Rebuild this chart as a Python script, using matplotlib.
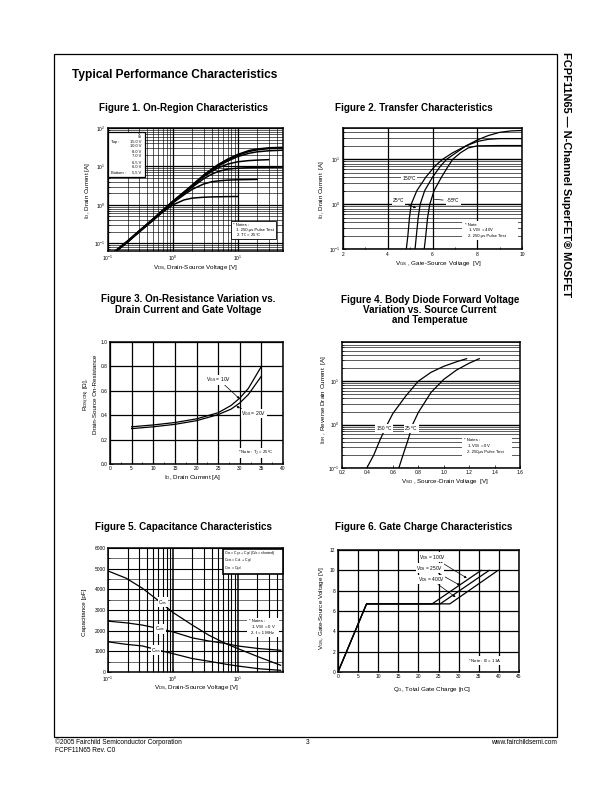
import numpy as np
import matplotlib
matplotlib.use('Agg')
import matplotlib.pyplot as plt
from matplotlib.patches import Rectangle
from matplotlib.ticker import LogLocator, NullFormatter, FixedLocator, MultipleLocator, FixedFormatter

plt.rcParams['font.family'] = ['Liberation Sans', 'DejaVu Sans']
plt.rcParams['mathtext.fontset'] = 'custom'
plt.rcParams['mathtext.rm'] = 'Liberation Sans'
plt.rcParams['mathtext.it'] = 'Liberation Sans'
plt.rcParams['mathtext.bf'] = 'Liberation Sans:bold'

# ---------------- data ----------------
# Figure 1: On-region characteristics
f1_vds = [0.13, 0.2, 0.3, 0.5, 0.7, 1.0, 1.5, 2.0, 3.0, 4.0, 5.0, 7.0, 10.0, 15.0, 20.0, 30.0, 50.0]
f1_id_15v = [0.064, 0.115, 0.21, 0.44, 0.73, 1.25, 2.2, 3.3, 6.0, 8.6, 11.2, 15.5, 20.5, 26.0, 28.5, 30.5, 31.5]
f1_id_10v = [0.063, 0.113, 0.205, 0.43, 0.72, 1.22, 2.15, 3.25, 5.9, 8.4, 10.8, 14.8, 19.5, 24.5, 27.0, 29.0, 30.0]
f1_id_8v = [0.062, 0.111, 0.2, 0.42, 0.7, 1.2, 2.1, 3.2, 5.7, 8.0, 10.2, 13.8, 18.0, 22.0, 24.0, 25.5, 26.5]
f1_id_7v = [0.061, 0.11, 0.2, 0.42, 0.7, 1.19, 2.08, 3.1, 5.4, 7.4, 9.2, 11.5, 13.2, 14.2, 14.6, 15.0, np.nan]
f1_id_65v = [0.061, 0.109, 0.198, 0.415, 0.69, 1.17, 2.0, 2.9, 4.8, 6.3, 7.4, 8.5, 9.0, 9.3, 9.4, 9.5, 9.6]
f1_id_6v = [0.06, 0.108, 0.196, 0.41, 0.68, 1.12, 1.85, 2.55, 3.5, 4.0, 4.2, 4.4, 4.5, 4.55, 4.6, np.nan, np.nan]
f1_id_55v = [0.06, 0.107, 0.194, 0.40, 0.65, 1.0, 1.35, 1.5, 1.58, 1.61, 1.62, 1.64, 1.65, np.nan, np.nan, np.nan, np.nan]
f1_vgs_labels = ['15.0 V', '10.0 V', '8.0 V', '7.0 V', '6.5 V', '6.0 V', '5.5 V']

# Figure 2: Transfer characteristics (Vgs, Id)
f2_vgs_150 = [4.83, 4.9, 4.97, 5.05, 5.3, 5.7, 6.1, 6.45, 6.9, 7.5, 8.0, 8.5, 9.0, 9.5, 10.0]
f2_id_150 = [0.1, 0.2, 0.5, 1.0, 2.0, 4.0, 7.0, 10.0, 14.0, 20.0, 27.0, 34.0, 40.0, 43.0, 44.0]
f2_vgs_25 = [5.22, 5.28, 5.36, 5.45, 5.65, 6.0, 6.35, 6.63, 7.05, 7.5, 8.0, 8.5, 9.0, 10.0]
f2_id_25 = [0.1, 0.2, 0.5, 1.0, 2.0, 4.0, 7.0, 10.0, 14.0, 20.0, 25.0, 28.0, 29.0, 29.0]
f2_vgs_m55 = [5.63, 5.7, 5.78, 5.88, 6.07, 6.4, 6.7, 6.9, 7.25, 7.6, 8.0, 9.0, 10.0]
f2_id_m55 = [0.1, 0.2, 0.5, 1.0, 2.0, 4.0, 7.0, 10.0, 14.0, 18.0, 20.0, 20.3, 20.3]

# Figure 3: On-resistance vs drain current
f3_id = [5, 10, 15, 20, 25, 28, 30, 32, 35]
f3_r_10v = [0.305, 0.32, 0.34, 0.37, 0.42, 0.48, 0.54, 0.62, 0.80]
f3_r_20v = [0.29, 0.305, 0.325, 0.355, 0.405, 0.45, 0.50, 0.57, 0.72]

# Figure 4: Body diode forward voltage
f4_vsd_150 = [0.395, 0.45, 0.5, 0.555, 0.6, 0.7, 0.8, 0.9, 1.0, 1.1, 1.18]
f4_idr_150 = [0.1, 0.2, 0.45, 1.0, 1.8, 4.5, 10.0, 16.0, 22.0, 28.0, 33.0]
f4_vsd_25 = [0.647, 0.68, 0.72, 0.755, 0.8, 0.9, 1.0, 1.1, 1.2, 1.28]
f4_idr_25 = [0.1, 0.2, 0.45, 1.0, 1.9, 5.5, 11.0, 18.0, 26.0, 33.0]

# Figure 5: Capacitance characteristics
f5_vds = [0.1, 0.19, 0.34, 0.61, 1.0, 2.0, 3.6, 6.5, 10.0, 21.0, 46.0]
f5_ciss = [4890, 4540, 4050, 3435, 2885, 2270, 1780, 1380, 1135, 730, 325]
f5_coss = [2460, 2380, 2270, 2100, 1945, 1650, 1500, 1380, 1260, 1135, 1050]
f5_crss = [1460, 1340, 1260, 1050, 890, 650, 520, 380, 290, 160, 80]

# Figure 6: Gate charge characteristics
f6_qg_100 = [0, 7.1, 23.4, 35.6]
f6_vgs_100 = [0, 6.7, 6.7, 10.0]
f6_qg_250 = [0, 7.1, 25.4, 37.6]
f6_vgs_250 = [0, 6.7, 6.7, 10.0]
f6_qg_400 = [0, 7.1, 27.8, 39.8]
f6_vgs_400 = [0, 6.7, 6.7, 10.0]

# ---------------- layout helpers ----------------
W, H = 612, 792
fig = plt.figure(figsize=(W / 100, H / 100), dpi=100)
fig.patch.set_facecolor('white')


def rect(l, t, r, b):
    return [l / W, 1 - b / H, (r - l) / W, (b - t) / H]


def ptext(x, y, s, size=4.0, ha='left', va='center', **kw):
    return fig.text(x / W, 1 - y / H, s, fontsize=size, ha=ha, va=va, **kw)


def pbox(x0, y0, x1, y1, lw=0.8, fc='white', z=5):
    r = Rectangle((x0 / W, 1 - y1 / H), (x1 - x0) / W, (y1 - y0) / H,
                  transform=fig.transFigure, facecolor=fc, edgecolor='black',
                  linewidth=lw, zorder=z)
    fig.patches.append(r)


def style(ax):
    for s in ax.spines.values():
        s.set_linewidth(1.1)
    ax.tick_params(which='both', direction='in', labelsize=3.5, width=0.5, pad=1.8)
    ax.tick_params(which='major', length=2)
    ax.tick_params(which='minor', length=1.2)
    ax.set_facecolor('white')


LAB = 4.5
TIT = 7.1

# page frame
fig.patches.append(Rectangle((54 / W, 1 - 737 / H), (557 - 54) / W, (737 - 54) / H,
                             transform=fig.transFigure, fill=False, edgecolor='black',
                             linewidth=0.9, zorder=1))
ptext(72, 75, 'Typical Performance Characteristics', size=8.6, weight='bold')
ptext(566, 52, 'FCPF11N65 \u2014 N-Channel SuperFET\u00ae MOSFET', size=7.9,
      weight='bold', rotation=270, ha='center', va='top')

# footer
ptext(55, 742, '\u00a92005 Fairchild Semiconductor Corporation', size=4.7)
ptext(55, 750, 'FCPF11N65 Rev. C0', size=4.7)
ptext(308, 743, '3', size=4.7, ha='center')
ptext(557, 742, 'www.fairchildsemi.com', size=4.7, ha='right')

# ---------------- Figure 1 ----------------
ax1 = fig.add_axes(rect(108, 128, 283, 251))
style(ax1)
ax1.set_xscale('log')
ax1.set_yscale('log')
ax1.set_xlim(0.1, 50)
ax1.set_ylim(0.063, 100)
ax1.grid(True, which='major', color='black', lw=0.9)
ax1.grid(True, which='minor', color='black', lw=0.45)
for ys in [f1_id_15v, f1_id_10v, f1_id_8v, f1_id_7v, f1_id_65v, f1_id_6v, f1_id_55v]:
    ax1.plot(f1_vds, ys, color='black', lw=1.1, zorder=3)
ax1.xaxis.set_major_locator(FixedLocator([0.1, 1, 10]))
ax1.xaxis.set_major_formatter(FixedFormatter(['10$^{-1}$', '10$^{0}$', '10$^{1}$']))
ax1.yaxis.set_major_locator(FixedLocator([0.1, 1, 10, 100]))
ax1.yaxis.set_major_formatter(FixedFormatter(['10$^{-1}$', '10$^{0}$', '10$^{1}$', '10$^{2}$']))
ax1.xaxis.set_minor_locator(LogLocator(base=10, subs=np.arange(2, 10)))
ax1.yaxis.set_minor_locator(LogLocator(base=10, subs=np.arange(2, 10)))
ax1.xaxis.set_minor_formatter(NullFormatter())
ax1.yaxis.set_minor_formatter(NullFormatter())
ptext(183.5, 108, 'Figure 1. On-Region Characteristics', size=TIT, weight='bold', ha='center')
ptext(195.5, 268, 'V$_{\\mathrm{DS}}$, Drain-Source Voltage [V]', size=LAB, ha='center')
ptext(88, 190, 'I$_{\\mathrm{D}}$, Drain Current [A]', size=LAB, ha='center', rotation=90)
# VGS legend box
pbox(108, 131.5, 144.5, 177, lw=0.9)
ptext(140.5, 134.3, 'V', size=2.9, ha='right', zorder=6)
ptext(141.5, 137.3, 'GS', size=2.1, ha='right', zorder=6)
rows_y = [142.3, 146.3, 152.4, 156.4, 162.6, 166.7, 173.2]
for yy, lab in zip(rows_y, f1_vgs_labels):
    ptext(141, yy, lab, size=2.9, ha='right', zorder=6)
ptext(111, 142.3, 'Top :', size=2.9, zorder=6)
ptext(111, 173.2, 'Bottom :', size=2.9, zorder=6)
# notes box
pbox(231, 221, 276, 239, lw=0.6)
ptext(233, 224.5, '* Notes :', size=3.1, zorder=6)
ptext(236, 230, '1. 250 \u03bcs Pulse Test', size=3.1, zorder=6)
ptext(236, 235.5, '2. T$_{\\mathrm{C}}$ = 25\u00b0C', size=3.1, zorder=6)

# ---------------- Figure 2 ----------------
ax2 = fig.add_axes(rect(343, 128, 522, 249))
style(ax2)
ax2.set_yscale('log')
ax2.set_xlim(2, 10)
ax2.set_ylim(0.1, 50)
ax2.xaxis.set_major_locator(FixedLocator([2, 4, 6, 8, 10]))
ax2.xaxis.set_minor_locator(MultipleLocator(1))
ax2.yaxis.set_major_locator(FixedLocator([0.1, 1, 10]))
ax2.yaxis.set_major_formatter(FixedFormatter(['10$^{-1}$', '10$^{0}$', '10$^{1}$']))
ax2.yaxis.set_minor_locator(LogLocator(base=10, subs=np.arange(2, 10)))
ax2.yaxis.set_minor_formatter(NullFormatter())
ax2.grid(True, which='major', axis='x', color='black', lw=0.9)
ax2.grid(True, which='major', axis='y', color='black', lw=1.0)
ax2.grid(True, which='minor', axis='y', color='black', lw=0.45)
ax2.plot(f2_vgs_150, f2_id_150, color='black', lw=0.9, zorder=3)
ax2.plot(f2_vgs_25, f2_id_25, color='black', lw=0.9, zorder=3)
ax2.plot(f2_vgs_m55, f2_id_m55, color='black', lw=0.9, zorder=3)
ax2.annotate('150$^{\\mathrm{o}}$C', xy=(5.45, 3.0), xytext=(4.62, 3.7), fontsize=3.4,
             ha='left', va='center', arrowprops=dict(arrowstyle='-', lw=0.5, color='black'),
             bbox=dict(fc='white', ec='none', pad=0.3))
ax2.annotate('25$^{\\mathrm{o}}$C', xy=(5.38, 0.78), xytext=(4.2, 1.18), fontsize=3.4,
             ha='left', va='center', arrowprops=dict(arrowstyle='-|>', lw=0.5, color='black',
                                                    mutation_scale=3),
             bbox=dict(fc='white', ec='none', pad=0.3))
ax2.annotate('-55$^{\\mathrm{o}}$C', xy=(5.96, 1.3), xytext=(6.62, 1.18), fontsize=3.4,
             ha='left', va='center', arrowprops=dict(arrowstyle='-', lw=0.5, color='black'),
             bbox=dict(fc='white', ec='none', pad=0.3))
pbox(462, 221, 518, 240, lw=0.0)
ptext(465, 224.5, '* Note', size=3.1, zorder=6)
ptext(468, 230, '1. V$_{\\mathrm{DS}}$ = 40V', size=3.1, zorder=6)
ptext(468, 235.5, '2. 250 \u03bcs Pulse Test', size=3.1, zorder=6)
ptext(414, 108, 'Figure 2. Transfer Characteristics', size=TIT, weight='bold', ha='center')
ptext(438, 263, 'V$_{\\mathrm{GS}}$ , Gate-Source Voltage  [V]', size=LAB, ha='center')
ptext(322, 190, 'I$_{\\mathrm{D}}$, Drain Current  [A]', size=LAB, ha='center', rotation=90)

# ---------------- Figure 3 ----------------
ax3 = fig.add_axes(rect(110, 342, 283, 464))
style(ax3)
ax3.set_xlim(0, 40)
ax3.set_ylim(0, 1.0)
ax3.xaxis.set_major_locator(MultipleLocator(5))
ax3.yaxis.set_major_locator(MultipleLocator(0.2))
ax3.yaxis.set_major_formatter(matplotlib.ticker.FormatStrFormatter('%.1f'))
ax3.xaxis.set_minor_locator(MultipleLocator(2.5))
ax3.grid(True, which='major', color='black', lw=0.9)
ax3.plot(f3_id, f3_r_10v, color='black', lw=0.9, zorder=3)
ax3.plot(f3_id, f3_r_20v, color='black', lw=0.9, zorder=3)
ax3.annotate('V$_{\\mathrm{GS}}$ = 10V', xy=(30.4, 0.52), xytext=(22.3, 0.69), fontsize=3.6,
             ha='left', va='center', arrowprops=dict(arrowstyle='-|>', lw=0.5, color='black',
                                                    mutation_scale=3, shrinkA=0),
             bbox=dict(fc='white', ec='none', pad=0.3))
ax3.annotate('V$_{\\mathrm{GS}}$ = 20V', xy=(28.6, 0.48), xytext=(30.4, 0.415), fontsize=3.6,
             ha='left', va='center', arrowprops=dict(arrowstyle='-|>', lw=0.5, color='black',
                                                    mutation_scale=3, shrinkA=0),
             bbox=dict(fc='white', ec='none', pad=0.3))
ax3.text(33.8, 0.09, '* Note : T$_{\\mathrm{J}}$ = 25$^{\\mathrm{o}}$C', fontsize=3.1, ha='center',
         va='center', bbox=dict(fc='white', ec='none', pad=0.6), zorder=5)
ptext(188, 299, 'Figure 3. On-Resistance Variation vs.', size=TIT, weight='bold', ha='center')
ptext(188, 310, 'Drain Current and Gate Voltage', size=TIT, weight='bold', ha='center')
ptext(193, 478, 'I$_{\\mathrm{D}}$, Drain Current [A]', size=LAB, ha='center')
ptext(87, 394, 'R$_{\\mathrm{DS(ON)}}$ [\u03a9],', size=LAB, ha='center', rotation=90)
ptext(95.5, 394, 'Drain-Source On-Resistance', size=LAB, ha='center', rotation=90)

# ---------------- Figure 4 ----------------
ax4 = fig.add_axes(rect(342, 342, 520, 468))
style(ax4)
ax4.set_yscale('log')
ax4.set_xlim(0.2, 1.6)
ax4.set_ylim(0.1, 80)
ax4.xaxis.set_major_locator(MultipleLocator(0.2))
ax4.xaxis.set_major_formatter(matplotlib.ticker.FormatStrFormatter('%.1f'))
ax4.yaxis.set_major_locator(FixedLocator([0.1, 1, 10]))
ax4.yaxis.set_major_formatter(FixedFormatter(['10$^{-1}$', '10$^{0}$', '10$^{1}$']))
ax4.yaxis.set_minor_locator(LogLocator(base=10, subs=np.arange(2, 10)))
ax4.yaxis.set_minor_formatter(NullFormatter())
ax4.grid(True, which='major', axis='y', color='black', lw=1.0)
ax4.grid(True, which='minor', axis='y', color='black', lw=0.45)
ax4.plot(f4_vsd_150, f4_idr_150, color='black', lw=0.9, zorder=3)
ax4.plot(f4_vsd_25, f4_idr_25, color='black', lw=0.9, zorder=3)
ax4.text(0.53, 0.8, '150 $^{\\mathrm{o}}$C', fontsize=3.4, ha='center', va='center',
         bbox=dict(fc='white', ec='none', pad=0.3), zorder=5)
ax4.text(0.745, 0.8, '25 $^{\\mathrm{o}}$C', fontsize=3.4, ha='center', va='center',
         bbox=dict(fc='white', ec='none', pad=0.3), zorder=5)
pbox(462, 436, 512, 457, lw=0.0)
ptext(464, 440, '* Notes :', size=3.1, zorder=6)
ptext(467, 446, '1. V$_{\\mathrm{GS}}$ = 0V', size=3.1, zorder=6)
ptext(467, 452, '2. 250\u03bcs Pulse Test', size=3.1, zorder=6)
ptext(430, 300, 'Figure 4. Body Diode Forward Voltage', size=TIT, weight='bold', ha='center')
ptext(430, 310, 'Variation vs. Source Current', size=TIT, weight='bold', ha='center')
ptext(430, 320, 'and Temperatue', size=TIT, weight='bold', ha='center')
ptext(445, 481, 'V$_{\\mathrm{SD}}$ , Source-Drain Voltage  [V]', size=LAB, ha='center')
ptext(323, 400, 'I$_{\\mathrm{DR}}$ , Reverse Drain Current  [A]', size=LAB, ha='center', rotation=90)

# ---------------- Figure 5 ----------------
ax5 = fig.add_axes(rect(108, 548, 283, 672))
style(ax5)
ax5.set_xscale('log')
ax5.set_xlim(0.1, 50)
ax5.set_ylim(0, 6000)
ax5.xaxis.set_major_locator(FixedLocator([0.1, 1, 10]))
ax5.xaxis.set_major_formatter(FixedFormatter(['10$^{-1}$', '10$^{0}$', '10$^{1}$']))
ax5.xaxis.set_minor_locator(LogLocator(base=10, subs=np.arange(2, 10)))
ax5.xaxis.set_minor_formatter(NullFormatter())
ax5.yaxis.set_major_locator(MultipleLocator(1000))
ax5.yaxis.set_minor_locator(MultipleLocator(500))
ax5.grid(True, which='major', axis='x', color='black', lw=1.1)
ax5.grid(True, which='minor', axis='x', color='black', lw=0.8)
ax5.grid(True, which='major', axis='y', color='black', lw=0.8)
ax5.grid(True, which='minor', axis='y', color='black', lw=0.4)
ax5.plot(f5_vds, f5_ciss, color='black', lw=0.9, zorder=3)
ax5.plot(f5_vds, f5_coss, color='black', lw=0.9, zorder=3)
ax5.plot(f5_vds, f5_crss, color='black', lw=0.9, zorder=3)
ax5.text(0.7, 3370, 'C$_{\\mathrm{iss}}$', fontsize=3.4, ha='center', va='center',
         bbox=dict(fc='white', ec='none', pad=0.3), zorder=5)
ax5.text(0.63, 2080, 'C$_{\\mathrm{oss}}$', fontsize=3.4, ha='center', va='center',
         bbox=dict(fc='white', ec='none', pad=0.3), zorder=5)
ax5.text(0.55, 1050, 'C$_{\\mathrm{rss}}$', fontsize=3.4, ha='center', va='center',
         bbox=dict(fc='white', ec='none', pad=0.3), zorder=5)
pbox(222.5, 549, 283, 574, lw=1.2)
ptext(224.5, 553.5, 'C$_{\\mathrm{iss}}$ = C$_{\\mathrm{gs}}$ + C$_{\\mathrm{gd}}$ (C$_{\\mathrm{ds}}$ = shorted)',
      size=2.6, zorder=6)
ptext(224.5, 561, 'C$_{\\mathrm{oss}}$ = C$_{\\mathrm{ds}}$ + C$_{\\mathrm{gd}}$', size=2.6, zorder=6)
ptext(224.5, 568.5, 'C$_{\\mathrm{rss}}$ = C$_{\\mathrm{gd}}$', size=2.6, zorder=6)
pbox(247, 618, 279, 637, lw=0.0)
ptext(249, 621.5, '* Notes :', size=3.1, zorder=6)
ptext(251, 627, '1. V$_{\\mathrm{GS}}$ = 0 V', size=3.1, zorder=6)
ptext(251, 632.5, '2. f = 1 MHz', size=3.1, zorder=6)
ptext(183.5, 527, 'Figure 5. Capacitance Characteristics', size=TIT, weight='bold', ha='center')
ptext(196, 688, 'V$_{\\mathrm{DS}}$, Drain-Source Voltage [V]', size=LAB, ha='center')
ptext(84, 612, 'Capacitance [pF]', size=LAB, ha='center', rotation=90)

# ---------------- Figure 6 ----------------
ax6 = fig.add_axes(rect(338, 550, 519, 672))
style(ax6)
ax6.set_xlim(0, 45)
ax6.set_ylim(0, 12)
ax6.xaxis.set_major_locator(MultipleLocator(5))
ax6.yaxis.set_major_locator(MultipleLocator(2))
ax6.grid(True, which='major', color='black', lw=0.9)
ax6.plot(f6_qg_100, f6_vgs_100, color='black', lw=0.9, zorder=3)
ax6.plot(f6_qg_250, f6_vgs_250, color='black', lw=0.9, zorder=3)
ax6.plot(f6_qg_400, f6_vgs_400, color='black', lw=0.9, zorder=3)
arrow_kw = dict(arrowstyle='-|>', lw=0.5, color='black', mutation_scale=3, shrinkA=0)
ax6.annotate('V$_{\\mathrm{DS}}$ = 100V', xy=(32.6, 9.1), xytext=(20.2, 11.3), fontsize=3.5,
             ha='left', va='center', arrowprops=arrow_kw,
             bbox=dict(fc='white', ec='none', pad=0.3))
ax6.annotate('V$_{\\mathrm{DS}}$ = 250V', xy=(30.9, 8.4), xytext=(19.4, 10.2), fontsize=3.5,
             ha='left', va='center', arrowprops=arrow_kw,
             bbox=dict(fc='white', ec='none', pad=0.3))
ax6.annotate('V$_{\\mathrm{DS}}$ = 400V', xy=(29.8, 7.2), xytext=(19.8, 9.1), fontsize=3.5,
             ha='left', va='center', arrowprops=arrow_kw,
             bbox=dict(fc='white', ec='none', pad=0.3))
ax6.text(36.5, 1.1, '* Note : I$_{\\mathrm{D}}$ = 11A', fontsize=3.1, ha='center', va='center',
         bbox=dict(fc='white', ec='none', pad=0.6), zorder=5)
ptext(424, 527, 'Figure 6. Gate Charge Characteristics', size=TIT, weight='bold', ha='center')
ptext(432, 689, 'Q$_{\\mathrm{G}}$, Total Gate Charge [nC]', size=LAB, ha='center')
ptext(322, 608, 'V$_{\\mathrm{GS}}$, Gate-Source Voltage [V]', size=LAB, ha='center', rotation=90)

fig.savefig('out.png', dpi=100, facecolor='white')
